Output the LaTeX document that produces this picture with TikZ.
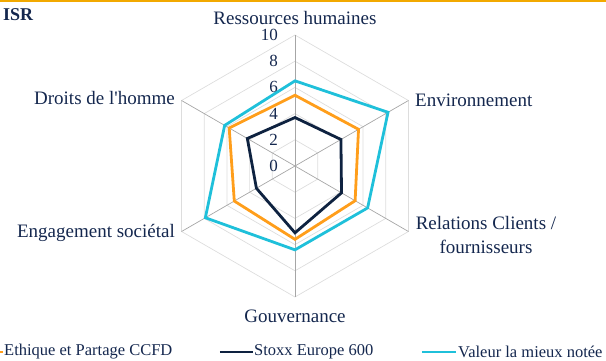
\documentclass[tikz,border=0pt]{standalone}
\usepackage{fontspec}
\setmainfont{Liberation Serif}
\newfontfamily\plainrm{Liberation Serif}
\usetikzlibrary{positioning}
\definecolor{isrText}{HTML}{14274E}
\definecolor{isrNavy}{HTML}{0E2240}
\definecolor{isrOrange}{HTML}{FF9E1B}
\definecolor{isrCyan}{HTML}{1FC0DA}
\definecolor{isrGold}{HTML}{F2A900}
\definecolor{gridGray}{HTML}{DDDDDD}
\definecolor{spokeGray}{HTML}{A6A6A6}
\tikzset{
    cat/.style={text=isrText, font=\fontsize{19}{24}\selectfont, inner sep=0pt, align=center},
    ticklbl/.style={text=isrText, font=\fontsize{17}{20}\selectfont, inner sep=0pt, anchor=east},
    legtxt/.style={text=isrText, font=\fontsize{16.5}{19}\selectfont, inner sep=0pt, anchor=west},
    serie/.style={line width=2.8pt, line join=miter}
}

\begin{document}
\begin{tikzpicture}[x=1pt,y=1pt]
\useasboundingbox (-295,-194) rectangle (311,166);
\draw[isrGold, line width=2pt] (-295,165) -- (311,165);
\node[text=isrText, font=\fontsize{18}{20}\selectfont\bfseries, inner sep=0pt, anchor=west] (titre) at (-292,151) {ISR};

% grille du radar
\begin{scope}[scale=13.1]
\foreach \r in {2,4,...,10}
    \draw[gridGray, line width=0.7pt] (90:\r) -- (30:\r) -- (-30:\r) -- (-90:\r) -- (-150:\r) -- (150:\r) -- cycle;
\foreach \a/\n in {90/rh,30/env,-30/rel,-90/gouv,-150/eng,150/dh}
    \draw[spokeGray, line width=0.7pt] (0,0) -- (\a:10) coordinate (ax-\n);
\foreach \v in {0,2,...,10}
    \node[ticklbl] (t\v) at (-1.3,\v) {\v};

% series
\draw[serie, isrNavy] (90:3.7) -- (30:4.05) -- (-30:4.1) -- (-90:5.1) -- (-150:3.4) -- (150:4.2) -- cycle;
\draw[serie, isrOrange] (90:5.4) -- (30:5.6) -- (-30:5.3) -- (-90:5.6) -- (-150:5.35) -- (150:5.8) -- cycle;
\draw[serie, isrCyan] (90:6.5) -- (30:8.2) -- (-30:6.4) -- (-90:6.4) -- (-150:7.9) -- (150:6.2) -- cycle;
\end{scope}

% axes
\node[cat] (lrh) at (0,148) {Ressources humaines};
\node[cat, anchor=west] (lenv) at (120,66) {Environnement};
\node[cat] (lrel) at (191,-69) {Relations Clients /\\fournisseurs};
\node[cat] (lgouv) at (0,-150) {Gouvernance};
\node[cat, anchor=east] (leng) at (-120,-67) {Engagement sociétal};
\node[cat, anchor=east] (ldh) at (-120,68) {\plainrm Droits de l'homme};

% legende
\coordinate (o1) at (-300,-186);
\coordinate (o2) at (-292,-186);
\draw[serie, isrOrange] (o1) -- (o2);
\node[legtxt] (leth) at (-291,-186) {Ethique et Partage CCFD};
\coordinate (n1) at (-75,-186);
\coordinate (n2) at (-42,-186);
\draw[serie, isrNavy] (n1) -- (n2);
\node[legtxt] (lstx) at (-41,-186) {Stoxx Europe 600};
\coordinate (c1) at (127,-186);
\coordinate (c2) at (161,-186);
\draw[serie, isrCyan] (c1) -- (c2);
\node[legtxt] (lval) at (163,-186) {Valeur la mieux notée};
\end{tikzpicture}
\end{document}
